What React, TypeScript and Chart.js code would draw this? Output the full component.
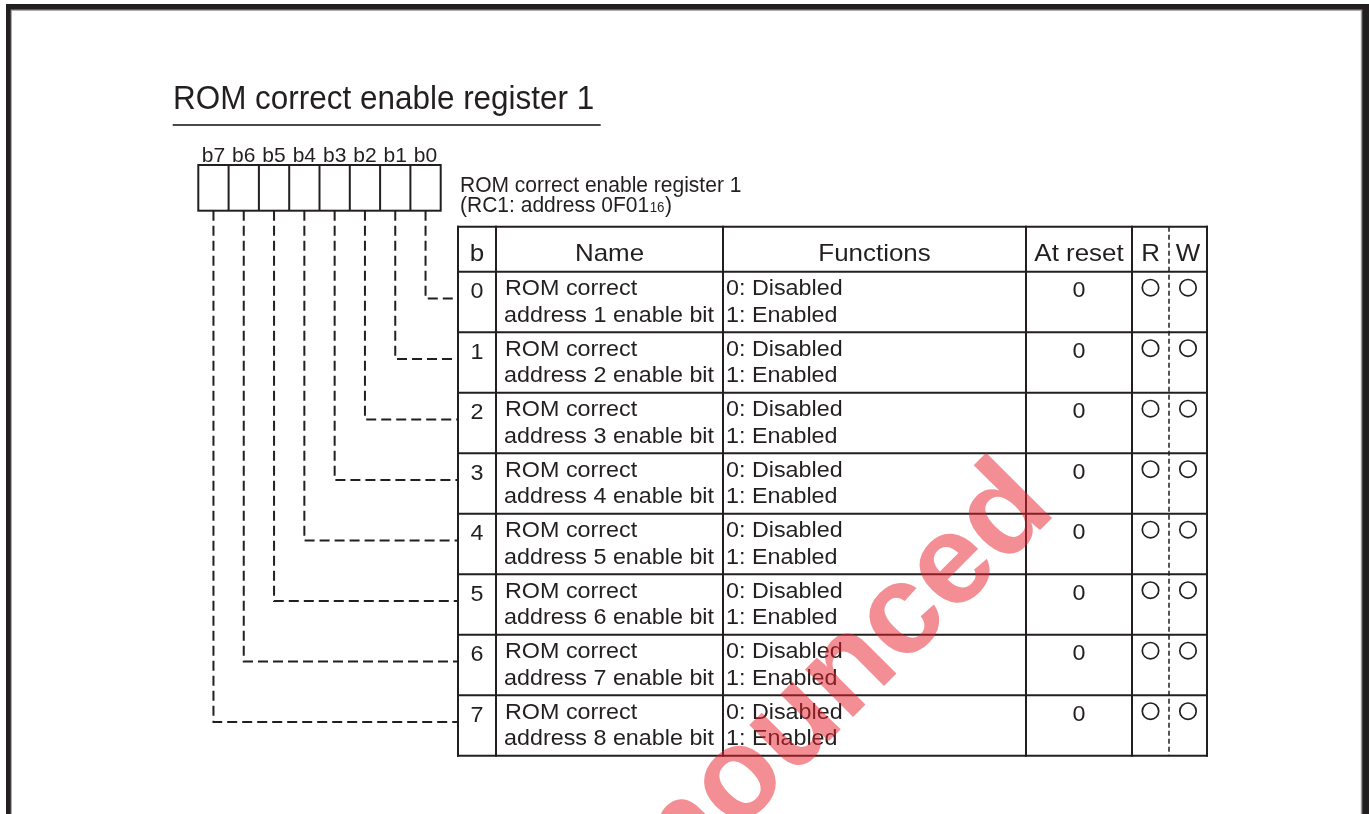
import React, { useEffect, useRef } from "react";
import { Chart, registerables } from "chart.js";

Chart.register(...registerables);

// ---------------- data ----------------
const TITLE_TEXT = "ROM correct enable register 1";
const REGISTER_LABEL = "ROM correct enable register 1";
const REGISTER_ADDRESS = "(RC1: address 0F01";
const REGISTER_ADDRESS_SUB = "16";
const REGISTER_ADDRESS_END = ")";
const BIT_LABELS = ["b7", "b6", "b5", "b4", "b3", "b2", "b1", "b0"];
const HEADERS = ["b", "Name", "Functions", "At reset", "R", "W"];
const BIT_NUMBERS = [0, 1, 2, 3, 4, 5, 6, 7];
const NAME_LINE1 = ["ROM correct", "ROM correct", "ROM correct", "ROM correct", "ROM correct", "ROM correct", "ROM correct", "ROM correct"];
const NAME_LINE2 = [
  "address 1 enable bit",
  "address 2 enable bit",
  "address 3 enable bit",
  "address 4 enable bit",
  "address 5 enable bit",
  "address 6 enable bit",
  "address 7 enable bit",
  "address 8 enable bit",
];
const FUNCTION_LINE1 = ["0: Disabled", "0: Disabled", "0: Disabled", "0: Disabled", "0: Disabled", "0: Disabled", "0: Disabled", "0: Disabled"];
const FUNCTION_LINE2 = ["1: Enabled", "1: Enabled", "1: Enabled", "1: Enabled", "1: Enabled", "1: Enabled", "1: Enabled", "1: Enabled"];
const RESET_VALUES = ["0", "0", "0", "0", "0", "0", "0", "0"];
const READABLE = [true, true, true, true, true, true, true, true];
const WRITABLE = [true, true, true, true, true, true, true, true];
const WATERMARK = "announced";

// ---------------- layout ----------------
const W = 1369;
const H = 814;
const INK = "#231f20";
const FONT = '"Liberation Sans", Arial, Helvetica, sans-serif';
const TITLE = { x: 173, y: 108.5, size: 34, xs: 0.925 };
const UNDERLINE = { x1: 172.7, x2: 600.7, y: 125 };
const BOX = { left: 198.3, right: 440.7, top: 165, bottom: 210.7 };
const BIT_LABEL = { y: 161.7, size: 21, xs: 1.0 };
const REG = { x: 460, y1: 192.3, y2: 211.7, size: 22, xs: 0.955, subSize: 14 };
const COLS = [458, 496, 723, 1026, 1132, 1169, 1207];
const TABLE_TOP = 226.7;
const HEADER_BOTTOM = 271.7;
const ROW_H = 60.5;
const HEADER_FONT = { size: 24, xs: 1.08, y: 260.7 };
const BODY_FONT = { size: 22, xs: 1.06 };
const LINE1_DY = 23.3;
const LINE2_DY = 50;
const BITNUM_DY = 26.6;
const RESET_DY = 25.6;
const CIRCLE_DY = 16;
const CONNECTOR_DY = -3.5;

const cellW = (BOX.right - BOX.left) / BIT_LABELS.length;
const rowTop = (i: number) => HEADER_BOTTOM + i * ROW_H;
const boxCenter = (bit: number) => BOX.left + (BIT_LABELS.length - 1 - bit + 0.5) * cellW;
const colCenter = (c: number) => (COLS[c] + COLS[c + 1]) / 2;

function drawText(
  ctx: CanvasRenderingContext2D,
  s: string,
  x: number,
  y: number,
  size: number,
  align: CanvasTextAlign,
  xs: number,
  weight = "normal"
) {
  ctx.save();
  ctx.font = `${weight} ${size}px ${FONT}`;
  ctx.translate(x, y);
  ctx.scale(xs, 1);
  ctx.textAlign = align;
  ctx.textBaseline = "alphabetic";
  ctx.fillText(s, 0, 0);
  ctx.restore();
}

const diagramPlugin = {
  id: "registerDiagram",
  beforeDatasetsDraw(chart: any) {
    const ctx: CanvasRenderingContext2D = chart.ctx;
    const sx = chart.scales.x;
    const sy = chart.scales.y;
    const X = (v: number) => sx.getPixelForValue(v);
    const Y = (v: number) => sy.getPixelForValue(v);

    ctx.save();
    ctx.fillStyle = "#ffffff";
    ctx.fillRect(0, 0, chart.width, chart.height);

    // frame
    ctx.fillStyle = "#9a9a9a";
    ctx.fillRect(X(6), Y(4), X(W) - X(6), Y(10.8) - Y(4));
    ctx.fillRect(X(6), Y(4), X(11.8) - X(6), Y(H) - Y(4));
    ctx.fillRect(X(1360.8), Y(4), X(W) - X(1360.8), Y(H) - Y(4));
    ctx.fillStyle = INK;
    ctx.fillRect(X(6), Y(4), X(W) - X(6), Y(9.5) - Y(4));
    ctx.fillRect(X(6), Y(4), X(10.7) - X(6), Y(H) - Y(4));
    ctx.fillRect(X(1362.3), Y(4), X(W) - X(1362.3), Y(H) - Y(4));

    ctx.fillStyle = INK;
    ctx.strokeStyle = INK;

    // title
    drawText(ctx, TITLE_TEXT, X(TITLE.x), Y(TITLE.y), TITLE.size, "left", TITLE.xs);
    ctx.strokeStyle = "#4a4a4a";
    ctx.lineWidth = 2;
    ctx.beginPath();
    ctx.moveTo(X(UNDERLINE.x1), Y(UNDERLINE.y));
    ctx.lineTo(X(UNDERLINE.x2), Y(UNDERLINE.y));
    ctx.stroke();
    ctx.strokeStyle = INK;

    // bit labels & boxes
    BIT_LABELS.forEach((lab, k) => {
      const cx = BOX.left + (k + 0.5) * cellW;
      drawText(ctx, lab, X(cx), Y(BIT_LABEL.y), BIT_LABEL.size, "center", BIT_LABEL.xs);
    });
    ctx.lineWidth = 2;
    ctx.strokeRect(X(BOX.left), Y(BOX.top), X(BOX.right) - X(BOX.left), Y(BOX.bottom) - Y(BOX.top));
    for (let k = 1; k < BIT_LABELS.length; k++) {
      const xx = X(BOX.left + k * cellW);
      ctx.beginPath();
      ctx.moveTo(xx, Y(BOX.top));
      ctx.lineTo(xx, Y(BOX.bottom));
      ctx.stroke();
    }

    // register label
    drawText(ctx, REGISTER_LABEL, X(REG.x), Y(REG.y1), REG.size, "left", REG.xs);
    ctx.save();
    ctx.font = `${REG.size}px ${FONT}`;
    const w1 = ctx.measureText(REGISTER_ADDRESS).width * REG.xs;
    ctx.font = `${REG.subSize}px ${FONT}`;
    const w2 = ctx.measureText(REGISTER_ADDRESS_SUB).width * REG.xs;
    ctx.restore();
    drawText(ctx, REGISTER_ADDRESS, X(REG.x), Y(REG.y2), REG.size, "left", REG.xs);
    drawText(ctx, REGISTER_ADDRESS_SUB, X(REG.x) + w1 + 0.5, Y(REG.y2), REG.subSize, "left", REG.xs);
    drawText(ctx, REGISTER_ADDRESS_END, X(REG.x) + w1 + w2 + 1, Y(REG.y2), REG.size, "left", REG.xs);

    // table grid
    const nRows = BIT_NUMBERS.length;
    const bottom = rowTop(nRows);
    ctx.lineWidth = 2;
    ctx.lineCap = "square";
    const hLines = [TABLE_TOP, ...BIT_NUMBERS.map((_, i) => rowTop(i)), bottom];
    hLines.forEach((yy) => {
      ctx.beginPath();
      ctx.moveTo(X(COLS[0]), Y(yy));
      ctx.lineTo(X(COLS[COLS.length - 1]), Y(yy));
      ctx.stroke();
    });
    COLS.forEach((xx, c) => {
      if (c === 5) return;
      ctx.beginPath();
      ctx.moveTo(X(xx), Y(TABLE_TOP));
      ctx.lineTo(X(xx), Y(bottom));
      ctx.stroke();
    });
    ctx.save();
    ctx.lineCap = "butt";
    ctx.lineWidth = 1.5;
    ctx.setLineDash([5, 3]);
    ctx.beginPath();
    ctx.moveTo(X(COLS[5]), Y(TABLE_TOP));
    ctx.lineTo(X(COLS[5]), Y(bottom));
    ctx.stroke();
    ctx.restore();

    // header
    HEADERS.forEach((h, c) => {
      drawText(ctx, h, X(colCenter(c)), Y(HEADER_FONT.y), HEADER_FONT.size, "center", HEADER_FONT.xs);
    });

    // rows
    BIT_NUMBERS.forEach((b, i) => {
      const t = rowTop(i);
      drawText(ctx, String(b), X(colCenter(0)), Y(t + BITNUM_DY), BODY_FONT.size, "center", BODY_FONT.xs);
      drawText(ctx, NAME_LINE1[i], X(COLS[1] + 9), Y(t + LINE1_DY), BODY_FONT.size, "left", BODY_FONT.xs);
      drawText(ctx, NAME_LINE2[i], X(COLS[1] + 8), Y(t + LINE2_DY), BODY_FONT.size, "left", BODY_FONT.xs);
      drawText(ctx, FUNCTION_LINE1[i], X(COLS[2] + 3), Y(t + LINE1_DY), BODY_FONT.size, "left", BODY_FONT.xs);
      drawText(ctx, FUNCTION_LINE2[i], X(COLS[2] + 3), Y(t + LINE2_DY), BODY_FONT.size, "left", BODY_FONT.xs);
      drawText(ctx, RESET_VALUES[i], X(colCenter(3)), Y(t + RESET_DY), BODY_FONT.size, "center", BODY_FONT.xs);
    });
    ctx.restore();
  },
  afterDraw(chart: any) {
    const ctx: CanvasRenderingContext2D = chart.ctx;
    const X = (v: number) => chart.scales.x.getPixelForValue(v);
    const Y = (v: number) => chart.scales.y.getPixelForValue(v);
    ctx.save();
    ctx.translate(X(1058), Y(512));
    ctx.rotate(-Math.PI / 4);
    ctx.font = `bold 128px ${FONT}`;
    ctx.textAlign = "right";
    ctx.textBaseline = "alphabetic";
    ctx.fillStyle = "rgba(232, 32, 42, 0.5)";
    ctx.fillText(WATERMARK, 0, 0);
    ctx.restore();
  },
};

export default function App() {
  const ref = useRef<HTMLCanvasElement | null>(null);

  useEffect(() => {
    if (!ref.current) return;
    document.body.style.margin = "0";

    const connectorSets = BIT_NUMBERS.map((b, i) => {
      const cx = boxCenter(b);
      const my = rowTop(i) + ROW_H / 2 + CONNECTOR_DY;
      return {
        type: "line" as const,
        data: [
          { x: cx, y: BOX.bottom },
          { x: cx, y: my },
          { x: COLS[0], y: my },
        ],
        borderColor: INK,
        borderWidth: 2,
        borderDash: [10, 5],
        pointRadius: 0,
        tension: 0,
        fill: false,
        showLine: true,
      };
    });

    const readPoints = BIT_NUMBERS.filter((_, i) => READABLE[i]).map((_, i) => ({
      x: colCenter(4),
      y: rowTop(i) + CIRCLE_DY,
    }));
    const writePoints = BIT_NUMBERS.filter((_, i) => WRITABLE[i]).map((_, i) => ({
      x: colCenter(5),
      y: rowTop(i) + CIRCLE_DY,
    }));

    const circleStyle = {
      type: "scatter" as const,
      pointStyle: "circle",
      pointRadius: 8.2,
      pointBorderWidth: 1.7,
      borderColor: INK,
      backgroundColor: "#ffffff",
      showLine: false,
    };

    const chart = new Chart(ref.current, {
      type: "scatter",
      data: {
        datasets: [
          ...connectorSets,
          { ...circleStyle, data: readPoints },
          { ...circleStyle, data: writePoints },
        ] as any,
      },
      options: {
        animation: false,
        responsive: false,
        events: [],
        layout: { padding: 0, autoPadding: false },
        plugins: {
          legend: { display: false },
          tooltip: { enabled: false },
          title: { display: false },
        },
        scales: {
          x: { type: "linear", min: 0, max: W, display: false },
          y: { type: "linear", min: 0, max: H, reverse: true, display: false },
        },
      },
      plugins: [diagramPlugin],
    });
    return () => chart.destroy();
  }, []);

  return (
    <div style={{ position: "fixed", left: 0, top: 0, width: W, height: H, background: "#fff" }}>
      <canvas ref={ref} width={W} height={H} style={{ display: "block", width: W, height: H }} />
    </div>
  );
}
